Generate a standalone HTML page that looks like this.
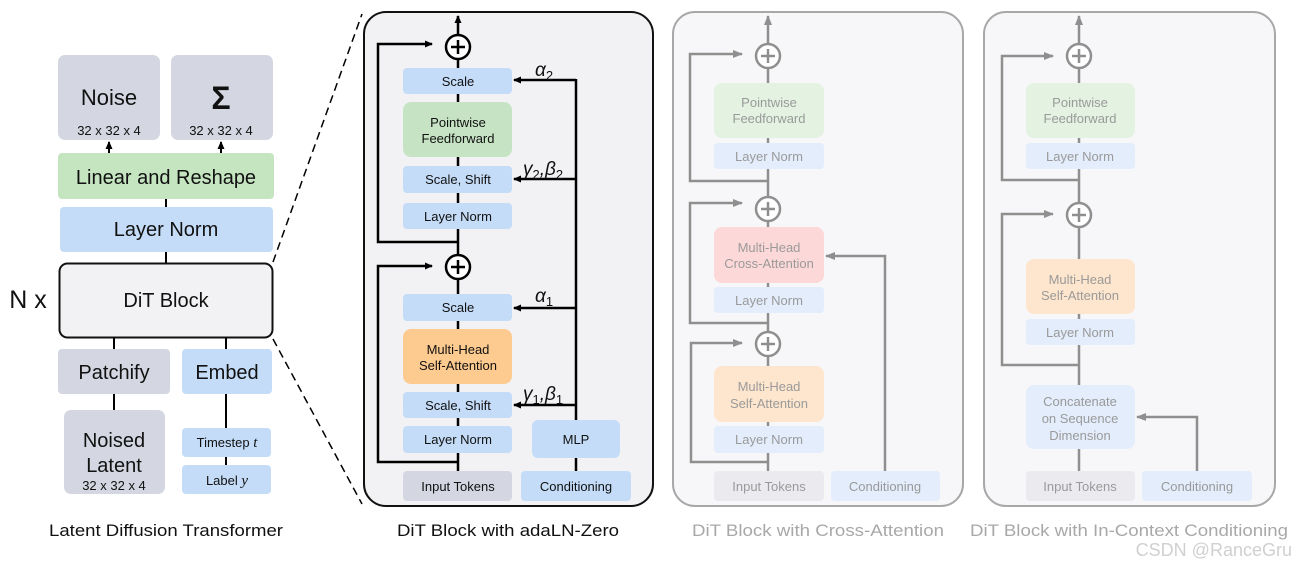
<!DOCTYPE html>
<html><head><meta charset="utf-8"><style>
html,body{margin:0;padding:0;background:#fff;}
svg{display:block;}
text{font-family:"Liberation Sans",Arial,sans-serif;}
.m{font-family:"Liberation Serif","DejaVu Serif",serif;font-style:italic;}
</style></head><body>
<svg width="1296" height="570" viewBox="0 0 1296 570" xmlns="http://www.w3.org/2000/svg">
<defs>
<marker id="ab" markerWidth="8" markerHeight="8" refX="7" refY="4" orient="auto" markerUnits="userSpaceOnUse"><path d="M0,0.5 L8,4 L0,7.5 z" fill="#000"/></marker>
<marker id="ag" markerWidth="10" markerHeight="10" refX="9" refY="5" orient="auto" markerUnits="userSpaceOnUse"><path d="M0,1 L10,5 L0,9 z" fill="#8f8f8f"/></marker>
</defs>

<!-- ============ LEFT ============ -->
<g text-anchor="middle" fill="#111">
<rect x="58" y="55" width="102" height="85" rx="7" fill="#d4d7e1"/>
<text x="109" y="105" font-size="22">Noise</text>
<text x="109" y="135" font-size="13">32 x 32 x 4</text>
<rect x="171" y="55" width="102" height="85" rx="7" fill="#d4d7e1"/>
<text x="221" y="109" font-size="32" font-family="Liberation Serif,serif" font-weight="bold">Σ</text>
<text x="221" y="135" font-size="13">32 x 32 x 4</text>
<line x1="109" y1="153" x2="109" y2="142" stroke="#000" stroke-width="2" marker-end="url(#ab)"/>
<line x1="221" y1="153" x2="221" y2="142" stroke="#000" stroke-width="2" marker-end="url(#ab)"/>
<rect x="58" y="153" width="216" height="46" rx="4" fill="#c5e4c0"/>
<text x="166" y="184" font-size="20">Linear and Reshape</text>
<line x1="166" y1="199" x2="166" y2="207" stroke="#000" stroke-width="2"/>
<rect x="60" y="207" width="213" height="45" rx="4" fill="#c4dcf8"/>
<text x="166" y="236" font-size="20">Layer Norm</text>
<line x1="166" y1="252" x2="166" y2="263" stroke="#000" stroke-width="2"/>
<rect x="59.5" y="263.5" width="213" height="74" rx="8" fill="#f2f2f4" stroke="#111" stroke-width="2"/>
<text x="166" y="307" font-size="20">DiT Block</text>
<text x="28" y="308" font-size="25">N x</text>
<line x1="114" y1="338" x2="114" y2="349" stroke="#000" stroke-width="2"/>
<line x1="226" y1="338" x2="226" y2="349" stroke="#000" stroke-width="2"/>
<rect x="58" y="349" width="112" height="45" rx="4" fill="#d4d7e1"/>
<text x="114" y="379" font-size="20">Patchify</text>
<rect x="182" y="349" width="90" height="45" rx="4" fill="#c4dcf8"/>
<text x="227" y="379" font-size="20">Embed</text>
<line x1="114" y1="394" x2="114" y2="410" stroke="#000" stroke-width="2"/>
<line x1="226" y1="394" x2="226" y2="428" stroke="#000" stroke-width="2"/>
<line x1="226" y1="457" x2="226" y2="465" stroke="#000" stroke-width="2"/>
<rect x="64" y="410" width="101" height="84" rx="7" fill="#d4d7e1"/>
<text x="114" y="447" font-size="20">Noised</text>
<text x="114" y="472" font-size="20">Latent</text>
<text x="114" y="490" font-size="13">32 x 32 x 4</text>
<rect x="182" y="428" width="89" height="29" rx="4" fill="#c4dcf8"/>
<text x="227" y="447" font-size="13">Timestep <tspan class="m" font-size="15">t</tspan></text>
<rect x="182" y="465" width="89" height="29" rx="4" fill="#c4dcf8"/>
<text x="227" y="485" font-size="13">Label <tspan class="m" font-size="15">y</tspan></text>
<text x="166" y="536" font-size="17" textLength="234" lengthAdjust="spacingAndGlyphs">Latent Diffusion Transformer</text>
</g>
<line x1="273" y1="262" x2="362" y2="14" stroke="#000" stroke-width="1.5" stroke-dasharray="8,5"/>
<line x1="273" y1="339" x2="362" y2="504" stroke="#000" stroke-width="1.5" stroke-dasharray="8,5"/>

<!-- ============ MIDDLE adaLN ============ -->
<rect x="364" y="12" width="289" height="494" rx="22" fill="#f2f2f4" stroke="#111" stroke-width="2"/>
<g stroke="#000" stroke-width="2.5" fill="none">
<line x1="458" y1="35" x2="458" y2="16" marker-end="url(#ab)"/>
<line x1="458" y1="59" x2="458" y2="471"/>
<polyline points="458,242 378,242 378,44 432,44" marker-end="url(#ab)"/>
<polyline points="458,462 378,462 378,266 432,266" marker-end="url(#ab)"/>
<line x1="576" y1="420" x2="576" y2="79"/>
<line x1="576" y1="458" x2="576" y2="471"/>
<line x1="576" y1="80" x2="514" y2="80" marker-end="url(#ab)"/>
<line x1="576" y1="179" x2="514" y2="179" marker-end="url(#ab)"/>
<line x1="576" y1="308" x2="514" y2="308" marker-end="url(#ab)"/>
<line x1="576" y1="405" x2="514" y2="405" marker-end="url(#ab)"/>
</g>
<g text-anchor="middle" fill="#111" font-size="13">
<rect x="403" y="68" width="109" height="26" rx="4" fill="#c4dcf8"/><text x="458" y="86">Scale</text>
<rect x="403" y="102" width="109" height="55" rx="8" fill="#c6e4c4"/><text x="458" y="127">Pointwise</text><text x="458" y="143">Feedforward</text>
<rect x="403" y="166" width="109" height="27" rx="4" fill="#c4dcf8"/><text x="458" y="184">Scale, Shift</text>
<rect x="403" y="203" width="109" height="26" rx="4" fill="#c4dcf8"/><text x="458" y="221">Layer Norm</text>
<rect x="403" y="294" width="109" height="27" rx="4" fill="#c4dcf8"/><text x="458" y="312">Scale</text>
<rect x="403" y="329" width="109" height="55" rx="8" fill="#fdca90"/><text x="458" y="354">Multi-Head</text><text x="458" y="370">Self-Attention</text>
<rect x="403" y="392" width="109" height="26" rx="4" fill="#c4dcf8"/><text x="458" y="410">Scale, Shift</text>
<rect x="403" y="426" width="109" height="27" rx="4" fill="#c4dcf8"/><text x="458" y="444">Layer Norm</text>
<rect x="403" y="471" width="109" height="30" rx="4" fill="#d4d7e1"/><text x="458" y="491">Input Tokens</text>
<rect x="521" y="471" width="110" height="30" rx="4" fill="#c4dcf8"/><text x="576" y="491">Conditioning</text>
<rect x="532" y="420" width="88" height="38" rx="6" fill="#c4dcf8"/><text x="576" y="444">MLP</text>
</g>
<g fill="#fff" stroke="#000" stroke-width="2.5">
<circle cx="458" cy="47" r="12"/><circle cx="458" cy="267" r="12"/>
</g>
<g stroke="#000" stroke-width="2.5">
<line x1="451" y1="47" x2="465" y2="47"/><line x1="458" y1="40" x2="458" y2="54"/>
<line x1="451" y1="267" x2="465" y2="267"/><line x1="458" y1="260" x2="458" y2="274"/>
</g>
<g class="m" font-size="19" fill="#111">
<text x="535" y="76">α<tspan font-size="13" dy="4" font-style="normal">2</tspan></text>
<text x="523" y="175">γ<tspan font-size="13" dy="4" font-style="normal">2</tspan><tspan dy="-4">,β</tspan><tspan font-size="13" dy="4" font-style="normal">2</tspan></text>
<text x="535" y="302">α<tspan font-size="13" dy="4" font-style="normal">1</tspan></text>
<text x="523" y="400">γ<tspan font-size="13" dy="4" font-style="normal">1</tspan><tspan dy="-4">,β</tspan><tspan font-size="13" dy="4" font-style="normal">1</tspan></text>
</g>
<text x="508" y="536" font-size="17" text-anchor="middle" fill="#111" textLength="222" lengthAdjust="spacingAndGlyphs">DiT Block with adaLN-Zero</text>

<!-- ============ CROSS-ATTN ============ -->
<rect x="673" y="12" width="290" height="494" rx="22" fill="#f7f7f9" stroke="#a8a8a8" stroke-width="2"/>
<g stroke="#8f8f8f" stroke-width="2.5" fill="none">
<line x1="768" y1="44" x2="768" y2="16" marker-end="url(#ag)"/>
<line x1="768" y1="68" x2="768" y2="471"/>
<polyline points="768,181 690,181 690,54 742,54" marker-end="url(#ag)"/>
<polyline points="768,323 690,323 690,203 742,203" marker-end="url(#ag)"/>
<polyline points="768,462 691,462 691,343 742,343" marker-end="url(#ag)"/>
<polyline points="885,471 885,256 826,256" marker-end="url(#ag)"/>
</g>
<g text-anchor="middle" fill="#9a9a9a" font-size="13">
<rect x="714" y="83" width="110" height="55" rx="8" fill="#e3f2e1"/><text x="769" y="107">Pointwise</text><text x="769" y="123">Feedforward</text>
<rect x="714" y="143" width="110" height="26" rx="4" fill="#e3edfb"/><text x="769" y="161">Layer Norm</text>
<rect x="714" y="227" width="110" height="56" rx="8" fill="#fdd8d8"/><text x="769" y="252">Multi-Head</text><text x="769" y="268">Cross-Attention</text>
<rect x="714" y="287" width="110" height="26" rx="4" fill="#e3edfb"/><text x="769" y="305">Layer Norm</text>
<rect x="714" y="366" width="110" height="56" rx="8" fill="#fde6cd"/><text x="769" y="391">Multi-Head</text><text x="769" y="408">Self-Attention</text>
<rect x="714" y="426" width="110" height="27" rx="4" fill="#e3edfb"/><text x="769" y="444">Layer Norm</text>
<rect x="714" y="471" width="110" height="30" rx="4" fill="#ebebef"/><text x="769" y="491">Input Tokens</text>
<rect x="831" y="471" width="109" height="30" rx="4" fill="#e3edfb"/><text x="885" y="491">Conditioning</text>
</g>
<g fill="#fff" stroke="#8f8f8f" stroke-width="2.5">
<circle cx="768" cy="56" r="12"/><circle cx="768" cy="209" r="12"/><circle cx="768" cy="344" r="12"/>
</g>
<g stroke="#8f8f8f" stroke-width="2.5">
<line x1="761" y1="56" x2="775" y2="56"/><line x1="768" y1="49" x2="768" y2="63"/>
<line x1="761" y1="209" x2="775" y2="209"/><line x1="768" y1="202" x2="768" y2="216"/>
<line x1="761" y1="344" x2="775" y2="344"/><line x1="768" y1="337" x2="768" y2="351"/>
</g>
<text x="818" y="536" font-size="17" text-anchor="middle" fill="#a8a8a8" textLength="252" lengthAdjust="spacingAndGlyphs">DiT Block with Cross-Attention</text>

<!-- ============ IN-CONTEXT ============ -->
<rect x="984" y="12" width="291" height="494" rx="22" fill="#f7f7f9" stroke="#a8a8a8" stroke-width="2"/>
<g stroke="#8f8f8f" stroke-width="2.5" fill="none">
<line x1="1079" y1="44" x2="1079" y2="16" marker-end="url(#ag)"/>
<line x1="1079" y1="68" x2="1079" y2="471"/>
<polyline points="1079,180 1002,180 1002,56 1053,56" marker-end="url(#ag)"/>
<polyline points="1079,365 1002,365 1002,214 1053,214" marker-end="url(#ag)"/>
<polyline points="1197,471 1197,417 1137,417" marker-end="url(#ag)"/>
</g>
<g text-anchor="middle" fill="#9a9a9a" font-size="13">
<rect x="1026" y="83" width="109" height="55" rx="8" fill="#e3f2e1"/><text x="1080" y="107">Pointwise</text><text x="1080" y="123">Feedforward</text>
<rect x="1026" y="143" width="109" height="26" rx="4" fill="#e3edfb"/><text x="1080" y="161">Layer Norm</text>
<rect x="1026" y="259" width="109" height="55" rx="8" fill="#fde6cd"/><text x="1080" y="284">Multi-Head</text><text x="1080" y="300">Self-Attention</text>
<rect x="1026" y="319" width="109" height="26" rx="4" fill="#e3edfb"/><text x="1080" y="337">Layer Norm</text>
<rect x="1026" y="385" width="109" height="64" rx="8" fill="#e3edfb"/><text x="1080" y="406">Concatenate</text><text x="1080" y="423">on Sequence</text><text x="1080" y="440">Dimension</text>
<rect x="1026" y="471" width="109" height="30" rx="4" fill="#ebebef"/><text x="1080" y="491">Input Tokens</text>
<rect x="1142" y="471" width="110" height="30" rx="4" fill="#e3edfb"/><text x="1197" y="491">Conditioning</text>
</g>
<g fill="#fff" stroke="#8f8f8f" stroke-width="2.5">
<circle cx="1079" cy="56" r="12"/><circle cx="1079" cy="215" r="12"/>
</g>
<g stroke="#8f8f8f" stroke-width="2.5">
<line x1="1072" y1="56" x2="1086" y2="56"/><line x1="1079" y1="49" x2="1079" y2="63"/>
<line x1="1072" y1="215" x2="1086" y2="215"/><line x1="1079" y1="208" x2="1079" y2="222"/>
</g>
<text x="1129" y="536" font-size="17" text-anchor="middle" fill="#a8a8a8" textLength="318" lengthAdjust="spacingAndGlyphs">DiT Block with In-Context Conditioning</text>
<text x="1292" y="556" font-size="18" text-anchor="end" fill="#d0d0d0">CSDN @RanceGru</text>
</svg>
</body></html>
